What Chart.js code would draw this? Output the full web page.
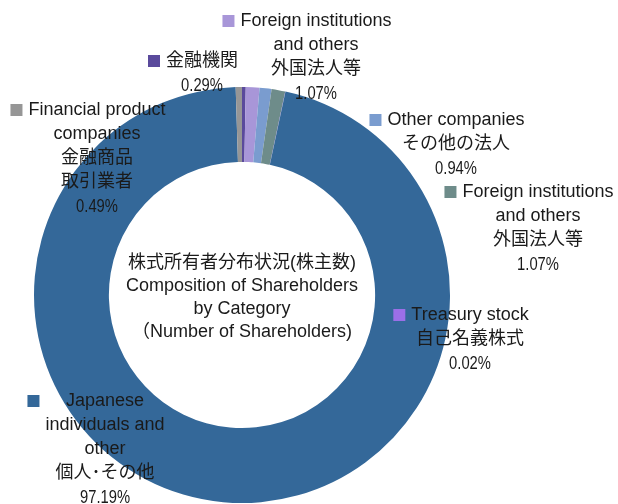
<!DOCTYPE html>
<html>
<head>
<meta charset="utf-8">
<script src="https://cdn.jsdelivr.net/npm/chart.js@4"></script>
<style>
html,body{margin:0;padding:0;background:#fff;}
#wrap{width:618px;height:504px;}
</style>
</head>
<body>
<div id="wrap"><canvas id="shareChart" width="618" height="504"></canvas></div>
<script>

// categories, clockwise from 12 o'clock
const categoryJa = [
    "金融機関",
    "外国法人等",
    "その他の法人",
    "外国法人等",
    "自己名義株式",
    "個人･その他",
    "金融商品取引業者"
];

const categoryEnLines = [
    [],
    ["Foreign institutions","and others"],
    ["Other companies"],
    ["Foreign institutions","and others"],
    ["Treasury stock"],
    ["Japanese","individuals and","other"],
    ["Financial product","companies"]
];

const jaLines = [
    ["金融機関"],
    ["外国法人等"],
    ["その他の法人"],
    ["外国法人等"],
    ["自己名義株式"],
    ["個人･その他"],
    ["金融商品","取引業者"]
];

const shareValues = [0.29, 1.07, 0.94, 1.07, 0.02, 97.19, 0.49];

const sliceColors = [
    "#5a4a9c",
    "#a896d8",
    "#7a9ccf",
    "#6e8c8a",
    "#9b6fe8",
    "#346899",
    "#969696"
];

const centerTitle = [
    "株式所有者分布状況(株主数)",
    "Composition of Shareholders",
    "by Category",
    "（Number of Shareholders)"
];

// where each text box sits (center x, first line y)
const labelSpots = [
    [202, 61],
    [316, 21],
    [456, 120],
    [538, 192],
    [470, 315],
    [105, 401],
    [97, 110]
];

const FONT = "18px 'Liberation Sans', Arial, 'Noto Sans CJK JP', sans-serif";
const LINE = 24;

const labelPlugin = {
    id:"labelPlugin",
    afterDraw(chart){

        const ctx = chart.ctx;
        ctx.save();
        ctx.fillStyle = "#1a1a1a";
        ctx.textBaseline = "middle";
        ctx.font = FONT;

        // center title
        const meta = chart.getDatasetMeta(0).data[0];
        ctx.textAlign = "center";
        centerTitle.forEach((t,i)=>{
            ctx.fillText(t, meta.x, meta.y - 32 + i*23);
        });

        shareValues.forEach((v,i)=>{

            const lines =
            categoryEnLines[i].concat(jaLines[i]);

            const pct = v.toFixed(2) + "%";

            const cx = labelSpots[i][0];
            const y0 = labelSpots[i][1];

            let boxW = 0;
            lines.forEach(t=>{
                boxW = Math.max(boxW, ctx.measureText(t).width);
            });
            boxW = Math.max(boxW, ctx.measureText(pct).width*0.82);

            ctx.textAlign = "center";
            lines.forEach((t,k)=>{
                ctx.fillText(t, cx, y0 + k*LINE);
            });

            // percentage looks condensed in the original
            ctx.save();
            ctx.translate(cx, y0 + lines.length*LINE + 1);
            ctx.scale(0.82, 1);
            ctx.fillText(pct, 0, 0);
            ctx.restore();

            // legend key
            ctx.fillStyle = sliceColors[i];
            ctx.fillRect(cx - boxW/2 - 18, y0 - 6, 12, 12);
            ctx.fillStyle = "#1a1a1a";

        });

        ctx.restore();
    }
};

new Chart(
    document.getElementById("shareChart"),
    {
        type:"doughnut",
        data:{
            labels:categoryJa,
            datasets:[{
                data:shareValues,
                backgroundColor:sliceColors,
                borderWidth:0
            }]
        },
        options:{
            responsive:false,
            animation:false,
            devicePixelRatio:1,
            cutout:"64%",
            layout:{
                padding:{left:34, right:168, top:87, bottom:1}
            },
            plugins:{
                legend:{display:false},
                tooltip:{enabled:false}
            }
        },
        plugins:[labelPlugin]
    }
);

</script>
</body>
</html>
